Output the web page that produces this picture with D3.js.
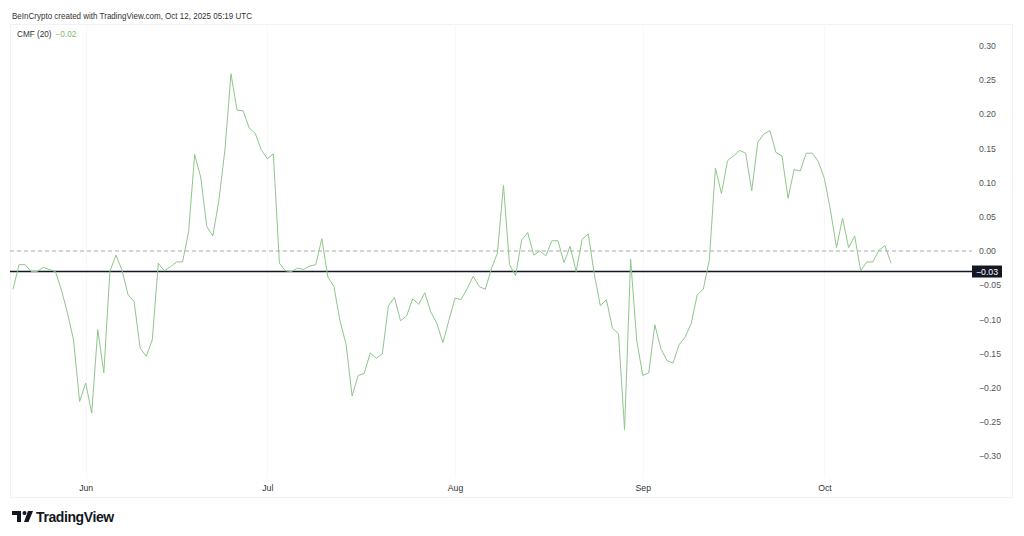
<!DOCTYPE html>
<meta charset="utf-8">
<style>
body { margin: 0; background: #fff; }
text { font-family: "Liberation Sans", Arial, sans-serif; }
.yaxis text { fill: #555; font-size: 8.7px; }
.xaxis text { fill: #333; font-size: 8.7px; }
</style>
<body>
<script src="https://cdn.jsdelivr.net/npm/d3@7"></script>
<script>

// daily CMF(20) readings, first day 2025-05-20, last day 2025-10-12
var startDate = new Date(2025, 4, 20);
var cmfValues = [
  -0.056, -0.020, -0.020, -0.030, -0.030, -0.024, -0.027, -0.030, -0.057, -0.091,
  -0.130, -0.220, -0.193, -0.237, -0.115, -0.178, -0.030, -0.006, -0.028, -0.064,
  -0.074, -0.142, -0.154, -0.130, -0.018, -0.029, -0.023, -0.016, -0.016, 0.028,
  0.141, 0.108, 0.036, 0.022, 0.074, 0.148, 0.259, 0.206, 0.205, 0.180,
  0.172, 0.148, 0.135, 0.142, -0.018, -0.029, -0.030, -0.025, -0.027, -0.022,
  -0.020, 0.018, -0.038, -0.052, -0.102, -0.136, -0.212, -0.182, -0.179, -0.149,
  -0.157, -0.150, -0.080, -0.068, -0.102, -0.095, -0.070, -0.078, -0.061, -0.089,
  -0.106, -0.134, -0.101, -0.069, -0.071, -0.055, -0.037, -0.052, -0.056, -0.026,
  -0.003, 0.096, -0.020, -0.036, 0.016, 0.027, -0.006, 0.000, -0.007, 0.015,
  0.015, -0.017, 0.007, -0.030, 0.017, 0.025, -0.034, -0.080, -0.071, -0.113,
  -0.121, -0.261, -0.012, -0.130, -0.182, -0.178, -0.108, -0.143, -0.160, -0.164,
  -0.137, -0.126, -0.106, -0.064, -0.056, -0.013, 0.121, 0.084, 0.132, 0.139,
  0.147, 0.143, 0.088, 0.159, 0.171, 0.176, 0.144, 0.139, 0.077, 0.119,
  0.117, 0.143, 0.143, 0.131, 0.106, 0.060, 0.005, 0.048, 0.005, 0.022,
  -0.029, -0.016, -0.016, 0.001, 0.008, -0.018
];
var yTicks = [0.30, 0.25, 0.20, 0.15, 0.10, 0.05, 0.00, -0.05, -0.10, -0.15, -0.20, -0.25, -0.30];
var monthTicks = [new Date(2025, 5, 1), new Date(2025, 6, 1), new Date(2025, 7, 1), new Date(2025, 8, 1), new Date(2025, 9, 1)];
var monthLabels = ["Jun", "Jul", "Aug", "Sep", "Oct"];
var levelLine = -0.03;   // horizontal line drawn on the chart
var lastValue = -0.02;

var width = 1024, height = 536;
var plot = {left: 10, right: 972, top: 24, bottom: 478};

var data = cmfValues.map(function(v, i) {
  return {date: d3.timeDay.offset(startDate, i), value: v};
});

var x = d3.scaleTime()
    .domain([startDate, data[data.length - 1].date])
    .range([13, 891]);
var y = d3.scaleLinear()
    .domain([-0.3, 0.3])
    .range([456.2, 45.8]);

var fmt = function(d) { return d3.format(".2f")(d).replace("-", "\u2212"); };

var svg = d3.select("body").append("svg")
    .attr("width", width)
    .attr("height", height);

// header
svg.append("text")
    .attr("x", 12).attr("y", 19)
    .attr("font-size", 9).attr("fill", "#333")
    .attr("textLength", 240).attr("lengthAdjust", "spacingAndGlyphs")
    .text("BeInCrypto created with TradingView.com, Oct 12, 2025 05:19 UTC");

// pane frame
svg.append("rect")
    .attr("x", 10.5).attr("y", 24.5)
    .attr("width", 1002).attr("height", 473)
    .attr("fill", "none").attr("stroke", "#f2f2f2");

// vertical month grid lines
svg.append("g").selectAll("line")
    .data(monthTicks)
  .enter().append("line")
    .attr("x1", function(d) { return Math.round(x(d)) + 0.5; })
    .attr("x2", function(d) { return Math.round(x(d)) + 0.5; })
    .attr("y1", plot.top).attr("y2", plot.bottom)
    .attr("stroke", "#f8f8f8");

// zero line
svg.append("line")
    .attr("x1", plot.left).attr("x2", plot.right)
    .attr("y1", y(0)).attr("y2", y(0))
    .attr("stroke", "#aaa").attr("stroke-dasharray", "4,3");

// level line
svg.append("line")
    .attr("x1", plot.left).attr("x2", plot.right)
    .attr("y1", y(levelLine)).attr("y2", y(levelLine))
    .attr("stroke", "#131722").attr("stroke-width", 1.5);

// CMF line
svg.append("path")
    .datum(data)
    .attr("fill", "none")
    .attr("stroke", "#8fc68b")
    .attr("stroke-width", 1)
    .attr("d", d3.line()
      .x(function(d) { return x(d.date); })
      .y(function(d) { return y(d.value); }));

// price scale
svg.append("g")
    .attr("class", "yaxis")
    .attr("transform", "translate(" + plot.right + ",0)")
    .call(d3.axisRight(y).tickValues(yTicks).tickSize(0).tickPadding(7).tickFormat(fmt))
    .call(function(g) { g.select(".domain").remove(); });

// level label
svg.append("rect")
    .attr("x", 972).attr("y", y(levelLine) - 6)
    .attr("width", 30).attr("height", 12)
    .attr("fill", "#131722");
svg.append("text")
    .attr("x", 987).attr("y", y(levelLine) + 3.2)
    .attr("text-anchor", "middle")
    .attr("font-size", 8.7).attr("fill", "#fff")
    .text(fmt(levelLine));

// time scale
svg.append("g")
    .attr("class", "xaxis")
    .attr("transform", "translate(0,482)")
    .call(d3.axisBottom(x).tickValues(monthTicks).tickSize(0).tickPadding(3)
      .tickFormat(function(d, i) { return monthLabels[i]; }))
    .call(function(g) { g.select(".domain").remove(); });

// legend
var legend = svg.append("text")
    .attr("x", 17).attr("y", 37)
    .attr("font-size", 8.2).attr("fill", "#333");
legend.append("tspan").text("CMF (20)");
legend.append("tspan").attr("dx", 4).attr("fill", "#7dbb6e").text(fmt(lastValue));

// TradingView mark
var logo = svg.append("g").attr("fill", "#131722");
logo.append("path").attr("d", "M12,511 H21 V522 H17 V515 H12 Z");
logo.append("circle").attr("cx", 24.5).attr("cy", 513).attr("r", 2);
logo.append("path").attr("d", "M28,511 H33 L28.5,522 H24 Z");
svg.append("text")
    .attr("x", 36).attr("y", 522)
    .attr("font-size", 14).attr("font-weight", "bold").attr("fill", "#131722")
    .attr("letter-spacing", -0.4)
    .text("TradingView");

</script>
</body>
